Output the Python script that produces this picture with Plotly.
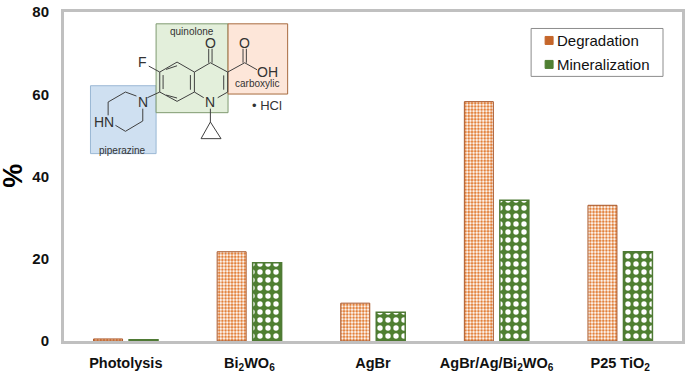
import plotly.graph_objects as go

W, H = 685, 376
LEFT, RIGHT, TOP, BOTTOM = 63.5, 682, 11.5, 341  # plot area on the page
L, R, T, B = LEFT, W - RIGHT, TOP, H - BOTTOM

categories = ["Photolysis", "Bi<sub>2</sub>WO<sub>6</sub>", "AgBr", "AgBr/Ag/Bi<sub>2</sub>WO<sub>6</sub>", "P25 TiO<sub>2</sub>"]
degradation = [0.5, 21.7, 9.2, 58.2, 33.0]
mineralization = [0.3, 19.0, 7.0, 34.2, 21.7]
y_ticks = [0, 20, 40, 60, 80]

# Inset molecule, in page pixels x3
boxes = [
    (270, 256, 467, 460, "#cfe0f1", "#9ab8d4"),
    (467, 70, 683, 337, "#e3efdb", "#7f9a70"),
    (683, 70, 862, 281, "#fde6d9", "#a86b3f"),
]
bonds = [
    [(478, 215), (530, 185), (582, 215), (582, 275), (530, 303), (478, 275), (478, 215)],
    [(582, 215), (630, 187), (682, 215), (682, 275), (652, 292)],
    [(610, 292), (582, 275)],
    [(625, 187), (625, 145)], [(635, 187), (635, 145)],
    [(682, 215), (733, 187), (770, 208)],
    [(728, 187), (728, 145)], [(738, 187), (738, 145)],
    [(445, 197), (478, 215)],
    [(441, 292), (478, 275)],
    [(408, 287), (375, 275), (323, 305), (323, 345)],
    [(345, 375), (375, 393), (427, 362), (427, 325)],
    [(630, 325), (630, 365)],
    [(630, 365), (602, 415), (662, 415), (630, 365)],
    [(488, 224), (488, 266)], [(497, 207), (530, 196)], [(497, 284), (530, 293)],
    [(570, 224), (570, 268)], [(670, 225), (670, 268)],
]
labels = [
    (574, 92, "quinolone", 10), (771, 248, "carboxylic", 10), (367, 452, "piperazine", 10),
    (630, 128, "O", 14), (733, 128, "O", 14), (800, 215, "OH", 14), (427, 186, "F", 14),
    (427, 305, "N", 14), (630, 305, "N", 14), (310, 365, "HN", 14), (800, 315, "• HCl", 13),
]
legend_names = ["Degradation", "Mineralization"]
legend_colors = ["#c5662a", "#4f7f32"]
legend_rows = [40, 64]

px = lambda v: (v - LEFT) / (RIGHT - LEFT)
py = lambda v: 1 - (v - TOP) / (BOTTOM - TOP)
pxx = lambda v: px(v / 3)
pyy = lambda v: py(v / 3)

shapes = []
for x0, y0, x1, y1, fill, edge in boxes:
    shapes.append(dict(type="rect", xref="paper", yref="paper", x0=pxx(x0), x1=pxx(x1), y0=pyy(y0), y1=pyy(y1),
                       fillcolor=fill, line=dict(color=edge, width=1), layer="above"))
for chain in bonds:
    path = "M" + " L".join(f"{pxx(x)},{pyy(y)}" for x, y in chain)
    shapes.append(dict(type="path", xref="paper", yref="paper", path=path,
                       line=dict(color="#404040", width=1), layer="above"))

annotations = [
    dict(x=pxx(x), y=pyy(y), xref="paper", yref="paper", text=t, showarrow=False, xanchor="center", yanchor="middle",
         font=dict(size=s, color="#333333", family="Liberation Sans"))
    for x, y, t, s in labels
]
annotations.append(dict(x=px(13), y=py(176), xref="paper", yref="paper", text="%", showarrow=False,
                        xanchor="center", yanchor="middle", textangle=-90,
                        font=dict(size=27, color="black", family="Liberation Sans", weight=700)))

# Legend box with small square keys
shapes.append(dict(type="rect", xref="paper", yref="paper", x0=px(531), x1=px(663), y0=py(28), y1=py(76),
                   fillcolor="white", line=dict(color="#8c8c8c", width=1), layer="above"))
for name, color, row in zip(legend_names, legend_colors, legend_rows):
    shapes.append(dict(type="rect", xref="paper", yref="paper", x0=px(545), x1=px(553), y0=py(row - 4), y1=py(row + 4),
                       fillcolor=color, line=dict(color=color, width=1), layer="above"))
    annotations.append(dict(x=px(555), y=py(row), xref="paper", yref="paper", text=name, showarrow=False,
                            xanchor="left", yanchor="middle", font=dict(size=15, color="#111111", family="Liberation Sans")))

fig = go.Figure()
fig.add_bar(name="Degradation", x=categories, y=degradation,
            marker=dict(color="white", line=dict(color="#a9572a", width=1),
                        pattern=dict(shape=".", fgcolor="#e2803a", bgcolor="white", fgopacity=1, size=3.2, solidity=0.55)))
fig.add_bar(name="Mineralization", x=categories, y=mineralization,
            marker=dict(color="white", line=dict(color="#4f7a35", width=1.5),
                        pattern=dict(shape=".", fgcolor="white", bgcolor="#4f7f32", fgopacity=1, size=8, solidity=0.36)))

fig.update_layout(
    width=W, height=H, margin=dict(l=L, r=R, t=T, b=B), autosize=False, showlegend=False,
    paper_bgcolor="white", plot_bgcolor="white", barmode="group", bargap=0.426, bargroupgap=0.183,
    font=dict(family="Liberation Sans", color="black"),
    shapes=shapes, annotations=annotations,
)
fig.update_xaxes(type="category", automargin=False, showgrid=False, showline=True, linecolor="#c0c0c0", linewidth=3, mirror=True,
                 ticks="", ticklabelstandoff=7, tickfont=dict(size=14.5, weight=700, color="#111111"))
fig.update_yaxes(range=[0, 80], automargin=False, tickvals=y_ticks, showgrid=False, zeroline=False, showline=True,
                 linecolor="#c0c0c0", linewidth=3, mirror=True, ticks="", ticklabelstandoff=9,
                 tickfont=dict(size=15, weight=700, color="#111111"))
# The browser's default page margin would push the chart out of the window
fig.write_html("out.html", config=dict(displayModeBar=False), post_script="document.body.style.margin='0';")
